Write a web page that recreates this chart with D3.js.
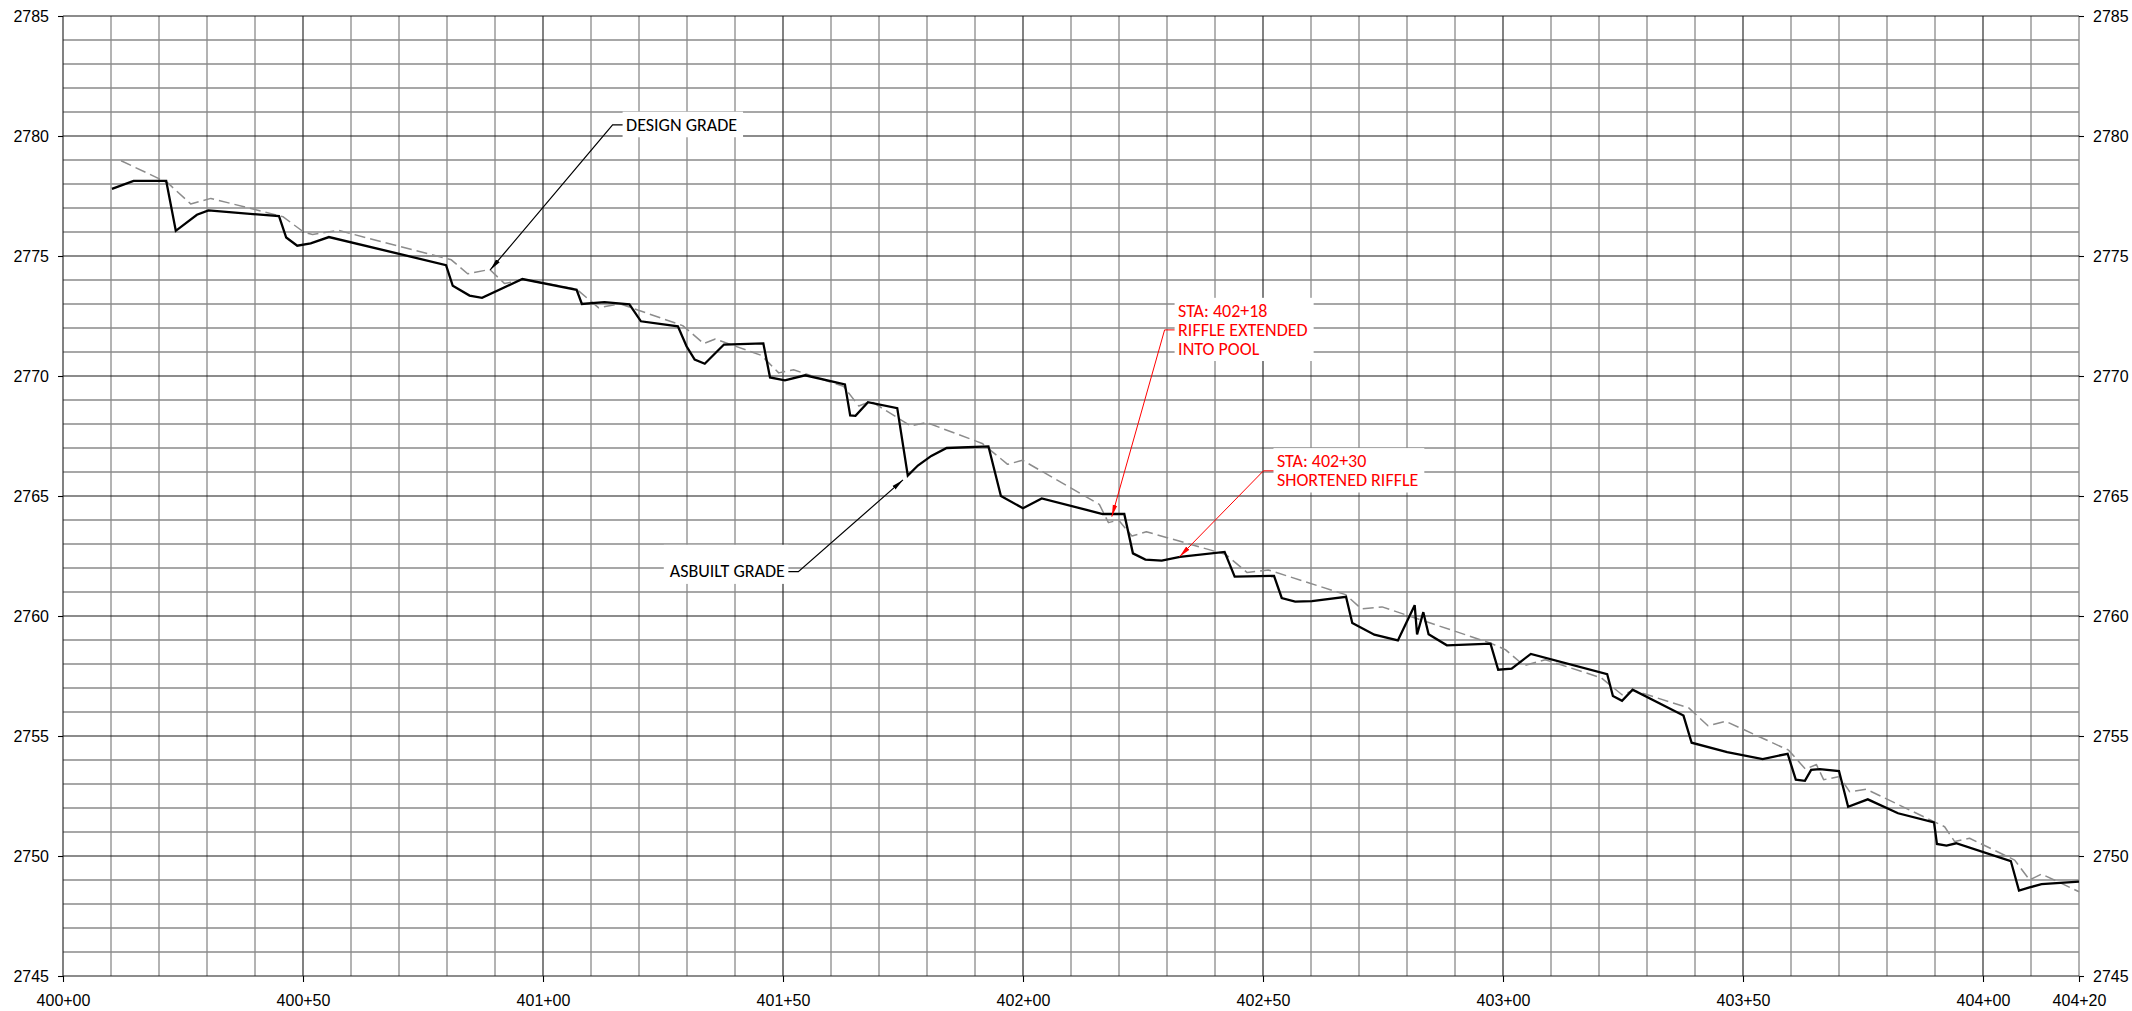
<!DOCTYPE html>
<html>
<head>
<meta charset="utf-8">
<script src="https://cdn.jsdelivr.net/npm/d3@7"></script>
<style>
  html, body { margin: 0; padding: 0; background: #fff; }
  svg { display: block; }
</style>
</head>
<body>
<svg id="chart" width="2132" height="1011"></svg>
<script>
// Stream profile: stationing (ft) against thalweg elevation (ft)

// As-built thalweg survey
const asbuiltStation = [
  40010.2, 40014.7, 40021.5, 40023.5, 40027.9, 40030.3, 40045.0, 40046.5, 40048.8, 40051.6,
  40055.4, 40079.8, 40081.2, 40084.7, 40087.3, 40095.7, 40107.0, 40108.1, 40112.8, 40118.0,
  40120.4, 40128.1, 40129.9, 40131.6, 40133.7, 40137.7, 40145.9, 40147.3, 40150.4, 40154.6,
  40162.9, 40164.0, 40165.1, 40167.7, 40173.8, 40176.0, 40178.1, 40180.9, 40184.1, 40192.8,
  40195.4, 40200.0, 40203.9, 40216.6, 40221.1, 40222.9, 40225.5, 40228.9, 40232.7, 40242.0,
  40244.1, 40252.3, 40253.9, 40256.7, 40260.2, 40267.3, 40268.6, 40273.2, 40278.1, 40281.6,
  40282.1, 40283.4, 40284.5, 40288.3, 40297.4, 40299.0, 40301.8, 40305.8, 40321.7, 40322.9,
  40324.8, 40327.0, 40337.6, 40339.3, 40346.7, 40354.1, 40359.3, 40361.0, 40362.9, 40364.2,
  40366.0, 40370.0, 40371.9, 40376.0, 40382.3, 40389.8, 40390.4, 40392.4, 40394.4, 40405.8,
  40407.5, 40409.7, 40412.2, 40420.0
];
const asbuiltElev = [
  2777.80, 2778.13, 2778.13, 2776.05, 2776.72, 2776.90, 2776.66, 2775.77, 2775.43, 2775.53,
  2775.79, 2774.62, 2773.76, 2773.35, 2773.26, 2774.04, 2773.59, 2773.00, 2773.08, 2772.99,
  2772.28, 2772.07, 2771.24, 2770.68, 2770.51, 2771.31, 2771.36, 2769.94, 2769.82, 2770.03,
  2769.65, 2768.36, 2768.34, 2768.91, 2768.66, 2765.85, 2766.27, 2766.67, 2767.00, 2767.07,
  2765.00, 2764.49, 2764.90, 2764.25, 2764.25, 2762.61, 2762.35, 2762.31, 2762.46, 2762.67,
  2761.64, 2761.67, 2760.75, 2760.60, 2760.62, 2760.80, 2759.71, 2759.22, 2758.98, 2760.45,
  2759.23, 2760.16, 2759.24, 2758.78, 2758.85, 2757.76, 2757.81, 2758.42, 2757.58, 2756.67,
  2756.47, 2756.93, 2755.85, 2754.72, 2754.33, 2754.04, 2754.26, 2753.18, 2753.13, 2753.59,
  2753.62, 2753.54, 2752.05, 2752.36, 2751.78, 2751.40, 2750.50, 2750.43, 2750.53, 2749.79,
  2748.56, 2748.69, 2748.83, 2748.93
];

// Design thalweg
const designStation = [
  40012.1, 40021.8, 40026.6, 40030.8, 40045.8, 40050.2, 40052.0, 40057.3, 40080.9, 40084.3,
  40088.9, 40092.0, 40096.0, 40107.0, 40111.6, 40116.0, 40129.1, 40133.5, 40135.9, 40145.5,
  40149.1, 40152.2, 40162.6, 40165.8, 40168.3, 40176.6, 40179.9, 40191.5, 40196.8, 40199.9,
  40215.9, 40217.8, 40219.9, 40222.7, 40225.7, 40242.2, 40246.7, 40251.1, 40267.2, 40270.5,
  40274.8, 40297.4, 40300.5, 40304.4, 40308.8, 40320.5, 40324.8, 40327.2, 40338.7, 40342.7,
  40346.4, 40359.5, 40363.0, 40365.3, 40366.8, 40370.1, 40372.2, 40375.7, 40392.0, 40394.1,
  40397.2, 40406.6, 40409.7, 40412.2, 40420.0
];
const designElev = [
  2778.97, 2778.05, 2777.17, 2777.40, 2776.64, 2775.99, 2775.90, 2776.07, 2774.84, 2774.26,
  2774.44, 2773.85, 2774.02, 2773.62, 2772.84, 2773.01, 2772.10, 2771.35, 2771.54, 2770.86,
  2770.13, 2770.26, 2769.57, 2768.75, 2768.95, 2767.92, 2768.06, 2767.19, 2766.32, 2766.49,
  2764.65, 2763.89, 2764.00, 2763.33, 2763.51, 2762.57, 2761.81, 2761.92, 2760.89, 2760.30,
  2760.38, 2758.87, 2758.60, 2757.93, 2758.18, 2757.42, 2756.72, 2756.90, 2756.17, 2755.43,
  2755.61, 2754.41, 2753.62, 2753.81, 2753.18, 2753.31, 2752.68, 2752.78, 2751.22, 2750.60,
  2750.74, 2749.83, 2749.00, 2749.25, 2748.51
];

// Axis ticks
const stationTicks = [40000, 40050, 40100, 40150, 40200, 40250, 40300, 40350, 40400, 40420];
const elevTicks = [2745, 2750, 2755, 2760, 2765, 2770, 2775, 2780, 2785];

// Callouts: text, arrow target (station, elev), leader elbow (station, elev)
const noteText = [
  ["DESIGN GRADE"],
  ["ASBUILT GRADE"],
  ["STA: 402+18", "RIFFLE EXTENDED", "INTO POOL"],
  ["STA: 402+30", "SHORTENED RIFFLE"]
];
const noteTarget = [[40089.0, 2774.42], [40175.0, 2765.67], [40218.5, 2764.14], [40232.6, 2762.47]];
const noteElbow = [[40114.5, 2780.46], [40153.2, 2761.85], [40229.5, 2771.92], [40250.1, 2766.05]];
const noteSide = ["right", "left", "right", "right"];
const noteKind = ["label", "label", "revision", "revision"];

// ---------------------------------------------------------------------------
(function draw() {
  const svg = d3.select("#chart");
  const W = 2132, H = 1011;
  const plotL = 63, plotR = 2079, plotT = 16, plotB = 976;

  const x = d3.scaleLinear().domain([40000, 40420]).range([plotL, plotR]);
  const y = d3.scaleLinear().domain([2745, 2785]).range([plotB, plotT]);

  svg.append("rect").attr("width", W).attr("height", H).attr("fill", "#fff");

  const fmtStation = s => `${Math.floor(s / 100)}+${String(Math.round(s % 100)).padStart(2, "0")}`;

  // Grid
  const grid = svg.append("g").attr("class", "grid");
  const vLines = d3.range(40000, 40421, 10);
  const hLines = d3.range(2745, 2786, 1);
  const isMajorV = s => s % 50 === 0;
  const isMajorH = e => e % 5 === 0;

  grid.selectAll("line.vminor").data(vLines.filter(s => !isMajorV(s))).join("line")
    .attr("class", "vminor")
    .attr("x1", d => x(d)).attr("x2", d => x(d)).attr("y1", plotT).attr("y2", plotB)
    .attr("stroke", "#8a8a8a").attr("stroke-width", 1.3);
  grid.selectAll("line.hminor").data(hLines.filter(e => !isMajorH(e))).join("line")
    .attr("class", "hminor")
    .attr("x1", plotL).attr("x2", plotR).attr("y1", d => y(d)).attr("y2", d => y(d))
    .attr("stroke", "#8a8a8a").attr("stroke-width", 1.3);
  grid.selectAll("line.vmajor").data(vLines.filter(isMajorV)).join("line")
    .attr("class", "vmajor")
    .attr("x1", d => x(d)).attr("x2", d => x(d)).attr("y1", plotT).attr("y2", plotB)
    .attr("stroke", "#1a1a1a").attr("stroke-width", 1.1);
  grid.selectAll("line.hmajor").data(hLines.filter(isMajorH)).join("line")
    .attr("class", "hmajor")
    .attr("x1", plotL).attr("x2", plotR).attr("y1", d => y(d)).attr("y2", d => y(d))
    .attr("stroke", "#1a1a1a").attr("stroke-width", 1.1);

  // Axes
  const axisFont = "'Liberation Sans', Arial, Helvetica, sans-serif";
  function styleAxis(g) {
    g.select(".domain").remove();
    g.selectAll(".tick line").attr("stroke", "#000").attr("stroke-width", 1.1);
    g.selectAll(".tick text").attr("fill", "#000")
      .style("font-family", axisFont).style("font-size", "16px");
  }
  svg.append("g").attr("transform", `translate(${plotL},0)`)
    .call(d3.axisLeft(y).tickValues(elevTicks).tickSize(5).tickPadding(9).tickFormat(d3.format("d")))
    .call(styleAxis);
  svg.append("g").attr("transform", `translate(${plotR},0)`)
    .call(d3.axisRight(y).tickValues(elevTicks).tickSize(5).tickPadding(9).tickFormat(d3.format("d")))
    .call(styleAxis);
  svg.append("g").attr("transform", `translate(0,${plotB})`)
    .call(d3.axisBottom(x).tickValues(stationTicks).tickSize(6).tickPadding(13).tickFormat(fmtStation))
    .call(styleAxis);

  // Profiles
  const line = d3.line().x(d => x(d[0])).y(d => y(d[1]));
  const designPts = d3.zip(designStation, designElev);
  const asbuiltPts = d3.zip(asbuiltStation, asbuiltElev);

  svg.append("path").datum(designPts)
    .attr("d", line).attr("fill", "none")
    .attr("stroke", "#8c8c8c").attr("stroke-width", 1.5)
    .attr("stroke-dasharray", "11,5").attr("stroke-linejoin", "round");

  svg.append("path").datum(asbuiltPts)
    .attr("d", line).attr("fill", "none")
    .attr("stroke", "#000").attr("stroke-width", 2.3)
    .attr("stroke-linejoin", "miter").attr("stroke-miterlimit", 3);

  // Callouts
  const kindStyle = {
    label:    { color: "#000",    width: 1.2, marker: "arrow-black" },
    revision: { color: "#ff0000", width: 1.0, marker: "arrow-red" }
  };
  const defs = svg.append("defs");
  [["arrow-black", "#000"], ["arrow-red", "#ff0000"]].forEach(([id, c]) => {
    defs.append("marker").attr("id", id)
      .attr("viewBox", "-12 -3 12 6").attr("refX", 0).attr("refY", 0)
      .attr("markerWidth", 12).attr("markerHeight", 6)
      .attr("markerUnits", "userSpaceOnUse").attr("orient", "auto")
      .append("path").attr("d", "M0,0L-12,-2.3L-12,2.3Z").attr("fill", c);
  });

  const noteFont = "Carlito, Calibri, Lato, 'Open Sans', sans-serif";
  const fontSize = 18, lineH = 18.8, capHalf = 5.8, stub = 10, textGap = 3.5;

  noteText.forEach((lines, i) => {
    const st = kindStyle[noteKind[i]];
    const ex = x(noteElbow[i][0]), ey = y(noteElbow[i][1]);
    const tx = x(noteTarget[i][0]), ty = y(noteTarget[i][1]);
    const dir = noteSide[i] === "right" ? 1 : -1;
    const boxEdge = ex + dir * stub;
    const g = svg.append("g");
    const box = g.append("rect").attr("fill", "#fff");

    const text = g.append("text")
      .style("font-family", noteFont).style("font-size", fontSize + "px")
      .attr("fill", st.color)
      .attr("text-anchor", dir > 0 ? "start" : "end");
    const n = lines.length;
    const baselines = lines.map((_, k) => ey + capHalf + (k - (n - 1) / 2) * lineH);
    lines.forEach((t, k) => {
      text.append("tspan").attr("x", boxEdge + dir * textGap).attr("y", baselines[k]).text(t);
    });

    // white backing box that interrupts the grid behind the label
    let maxW = 0;
    text.selectAll("tspan").each(function () { maxW = Math.max(maxW, this.getComputedTextLength()); });
    const padTop = noteSide[i] === "left" ? 21 : 7.5;
    const padBottom = 6.5, padFar = 6;
    const bx0 = dir > 0 ? boxEdge : boxEdge - textGap - maxW - padFar;
    const bx1 = dir > 0 ? boxEdge + textGap + maxW + padFar : boxEdge;
    const by0 = baselines[0] - 11.6 - padTop;
    const by1 = baselines[n - 1] + padBottom;
    box.attr("x", bx0).attr("y", by0).attr("width", bx1 - bx0).attr("height", by1 - by0);

    // leader: short stub from the box, then a straight run to the arrow
    svg.append("path")
      .attr("d", `M${boxEdge},${ey}L${ex},${ey}L${tx},${ty}`)
      .attr("fill", "none").attr("stroke", st.color).attr("stroke-width", st.width)
      .attr("marker-end", `url(#${st.marker})`);
  });
})();
</script>
</body>
</html>
